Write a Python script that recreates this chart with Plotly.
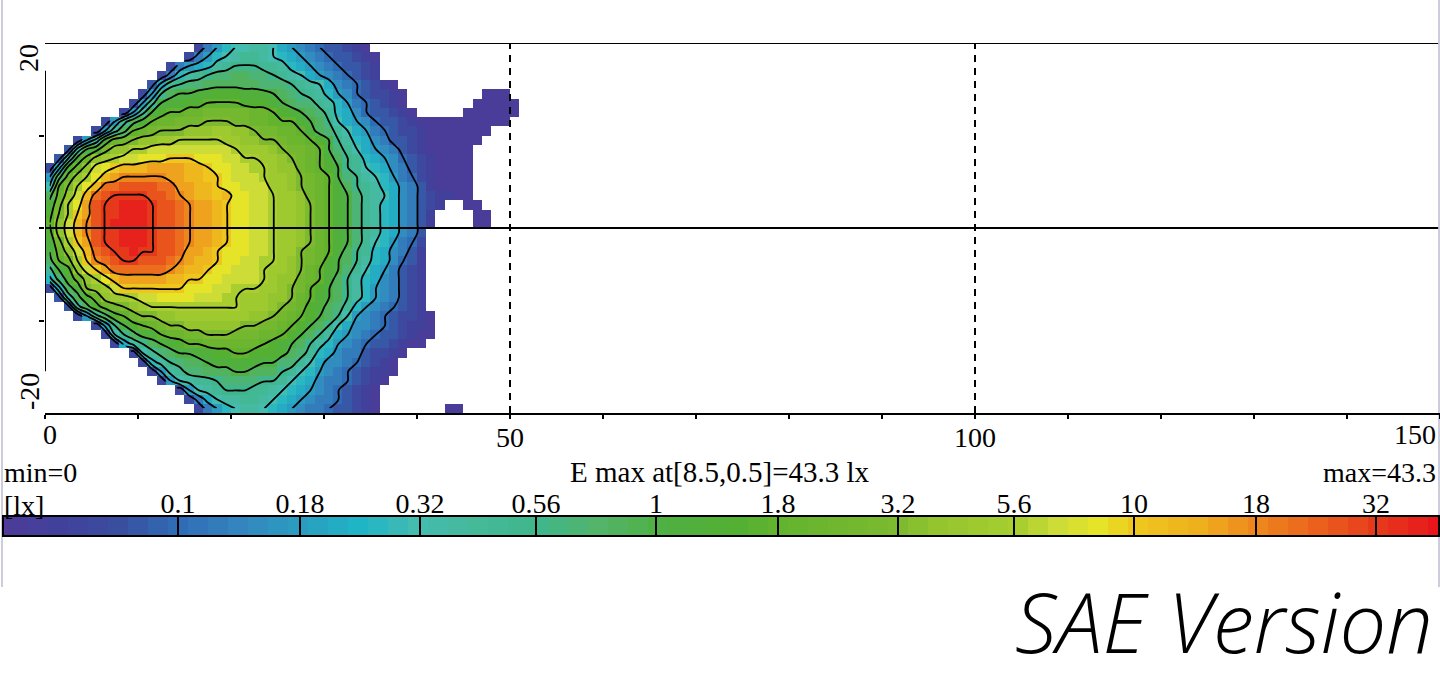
import plotly.graph_objects as go

W, H = 1440, 678
CODE = "0123456789abcdefghijklmnopqrstuvwxyz"

# Illuminance grid, one string per 1-degree row (y = 19.5 ... -19.5).
# Each character is a colour-scale step: 3 steps per band, '4'=0.1 lx, 'g'=1 lx, 's'=10 lx, 'y'=32 lx.
grid_rows = [
    "................2579aabba8765433210",
    "...............2579abccba98765433210",
    ".............25789bcdddccb9876543321",
    "............259bcdeeffeedcba87654321",
    "...........38cdeeffffffeeedcba86543210",
    "..........27dfgghhiiihhhgfedcb976432210........000",
    ".........27cghhiijjjjiiihgfeecb97543210.......00000",
    "........27cgijjkklllllkkjihgfec986433210.....000000",
    "......27cfhjkklllmmmllkkjjjhgfda876433210000000000",
    ".....27cfjklmmmnnnoonnmllkkjhfeca875432210000000",
    "...27bhklmnnoopppppoonnmmlkkjigdb98653321000000",
    "..3bgilnnppqqqqqqqqqpooonmllkjgeca876532100000",
    ".3ahknopqqrrrsssrrrqqppoonmlkjhfdc987643210000",
    "29hknqrstttuuuuttsrrqqpponnlkjigdca98653210000",
    "7fknprtuvvvvvuuttssrqqqpoonmlkjgedba9754210000",
    "ajmprtwwxxxxwwuuttsrrqqqoonmlkjhfdcb9865310000",
    "fknqtwxyyyyxxwvuttstrrqqpoonlkjhgecba865321100",
    "hlpruxyyzzzyxxwvuutsrrqqpoonmkjhgecb9865321..00",
    "impsuxyyzzzyxxwvuutsrrqqpoonmkjhgecb986531....00",
    "jnqtvxyzzzzyxxwvuutsrrqqpoonmkjhgecb986531....00",
    "inqtvxyyzzzyxxwvuutsrrqqpoonmkjhgecb98653",
    "hlpsuxyyzzzyxxwvuutsrrqqpoonmkjhgeca97542",
    "gknqtwxyyzyyxxwuutsrrrqqpoomlkjhfdc986531",
    "fjlpsvwxyyxxxwvuttsrrqqpponmlkigfdb986431",
    "cginqsuwwwwwwvuttsrrqqqpoonmkjhgeca875321",
    "9ehknprtuuuuuttssrrqqqqponnlkjhfdb9865321",
    "29fhmnoqsssssssrrrqqpppoonmljigfdb9765321",
    ".3bfiknoopqqrrrrqqqppooonnmkjhgfdb9765321",
    "..3cfiklmnoppppppppppooonmlkihfec97654321",
    "...27cfijlmmnnoooooooonnmlkjigfda765432210",
    ".....28dgijklmmnnnnnnmmllkjigfda8665432110",
    "......2adfhhjkkllmmmlllkkjigfdb87654332100",
    ".......28bdfghijjkkkkkkjihgfdb97654332100",
    ".........2acefgghhiijjiiihfec9865532210",
    "..........29bdeffghhhhhggeeca866543210",
    "...........27bceefffggfffdca9765432110",
    "............27abccdeeeeddca9865543210",
    "..............27abcdddccba9876543210",
    "...............258abbccba98765543210",
    "................2579abba987655433210.......00",
]

legend_steps = [-0.5, 0, 0.5, 1, 1.5, 2, 2.5, 3, 3.5, 4, 4.5, 5, 5.5, 6, 6.5, 7, 7.5, 8, 8.5,
                9, 9.5, 10, 10.5, 11, 11.5, 12, 12.5, 13, 13.5, 14, 14.5, 15, 15.5, 16, 16.5, 17, 17.5,
                18, 18.5, 19, 19.5, 20, 20.5, 21, 21.5, 22, 22.5, 23, 23.5, 24, 24.5, 25, 25.5, 26, 26.5,
                27, 27.5, 28, 28.5, 29, 29.5, 30, 30.5, 31, 31.5, 32, 32.5, 33, 33.5, 34, 34.5, 35, 35.5]
legend_ticks = [4, 7.05, 10.05, 12.95, 15.95, 19, 22, 24.9, 27.9, 30.95, 33.95]
legend_labels = ["0.1", "0.18", "0.32", "0.56", "1", "1.8", "3.2", "5.6", "10", "18", "32"]
x_ticks = [0, 10, 20, 30, 40, 50, 60, 70, 80, 90, 100, 110, 120, 130, 140, 150]
x_labels = ["", "", "", "", "", "50", "", "", "", "", "100", "", "", "", "", ""]
y_ticks = [-10, 0, 10]

Z_MIN, Z_MAX = -0.35, 35.5
stops = [(-0.35, "#53399b"), (0, "#4a3d9a"), (1, "#41409b"), (2.5, "#3a4ea0"), (4, "#2f6cb5"), (5.5, "#3484c0"),
         (7, "#2b9cc0"), (8.5, "#1fb4c6"), (10, "#44bcb0"), (11.5, "#45b998"), (13, "#3fb68b"),
         (14.5, "#52b56a"), (16, "#4fb043"), (18, "#53b032"), (19, "#62b32e"), (22, "#7dba30"),
         (23, "#95c52e"), (25, "#a8ce30"), (26, "#cddc36"), (27, "#e5e428"), (28, "#eec61e"),
         (29.5, "#eeb01d"), (31, "#ee861e"), (32.5, "#eb601c"), (34, "#e6391c"), (35.5, "#e8151c")]
colorscale = [[(v - Z_MIN) / (Z_MAX - Z_MIN), c] for v, c in stops]

n_cols = max(len(r) for r in grid_rows)
z = [[CODE.index(c) if c != "." else None for c in r.ljust(n_cols, ".")] for r in grid_rows]

SERIF = "Liberation Serif"
fig = go.Figure()
fig.add_trace(go.Heatmap(z=z, x0=0.5, dx=1, y0=19.5, dy=-1, zmin=Z_MIN, zmax=Z_MAX,
                         colorscale=colorscale, showscale=False, hoverongaps=False))
fig.add_trace(go.Contour(z=z, x0=0.5, dx=1, y0=19.5, dy=-1, showscale=False, hoverinfo="skip",
                         contours=dict(coloring="none", start=3.9, end=33.9, size=3),
                         line=dict(color="black", width=1.8, smoothing=1)))
fig.add_trace(go.Heatmap(z=[legend_steps], x=legend_steps, y=[0.5], zmin=Z_MIN, zmax=Z_MAX,
                         colorscale=colorscale, showscale=False, xaxis="x2", yaxis="y2"))


def line(x0, y0, x1, y1, **kw):
    style = dict(color="black", width=2)
    style.update(kw)
    fig.add_shape(type="line", x0=x0, y0=y0, x1=x1, y1=y1, xref="x", yref="y", line=style, layer="above")


line(0, 20, 149.8, 20)
line(-0.5, 0, 149.8, 0)
line(0, -15.5, 0, 17)
line(50, -20, 50, 20, dash="7px,6px")
line(100, -20, 100, 20, dash="7px,6px")

for xp in (2, 1439):
    fig.add_shape(type="line", x0=xp / W, x1=xp / W, y0=1, y1=1 - 587 / H, xref="paper", yref="paper",
                  line=dict(color="#ccccdd", width=2), layer="below")


def text(s, x, y, anchor="left", size=28, **kw):
    fig.add_annotation(text=s, x=x / W, y=1 - y / H, xref="paper", yref="paper", showarrow=False,
                       xanchor=anchor, yanchor="middle", font=kw.pop("font", dict(family=SERIF, size=size, color="black")),
                       borderpad=0, **kw)


text("min=0", 3, 472)
text("E max at[8.5,0.5]=43.3 lx", 720, 472, "center", size=29)
text("max=43.3", 1437, 472, "right")
text("[lx]", 3, 505)
text("0", 50, 434, "center")
text("150", 1437, 434, "right")
text("20", 29, 58, "center", textangle=-90)
text("-20", 29, 392, "center", textangle=-90)
text("SAE Version", 1434, 620, "right",
     font=dict(family="Open Sans", size=83, color="black", style="italic", weight=300))

fig.update_layout(
    width=W, height=H, margin=dict(l=0, r=0, t=0, b=0, autoexpand=False), paper_bgcolor="white", plot_bgcolor="white",
    showlegend=False,
    xaxis=dict(domain=[45 / W, 1], range=[0, 150], tickvals=x_ticks, ticktext=x_labels, ticks="outside",
               ticklen=4, tickwidth=2, tickcolor="black", showgrid=False, zeroline=False, showline=True,
               linecolor="black", linewidth=2, anchor="y", ticklabelstandoff=-6,
               tickfont=dict(family=SERIF, size=28, color="black")),
    yaxis=dict(domain=[1 - 413 / H, 1 - 43 / H], range=[-20, 20], tickvals=y_ticks, ticktext=["", "", ""],
               ticks="outside", ticklen=5, tickwidth=2, tickcolor="black", showgrid=False, zeroline=False,
               showline=False, anchor="x"),
    xaxis2=dict(domain=[4 / W, 1438 / W], range=[Z_MIN, Z_MAX], side="top", tickvals=legend_ticks,
                ticktext=legend_labels, ticks="inside", ticklen=18, tickwidth=2, tickcolor="black", showgrid=False,
                zeroline=False, showline=True, mirror=True, linecolor="black", linewidth=2, anchor="y2",
                ticklabelstandoff=-9, tickfont=dict(family=SERIF, size=28, color="black")),
    yaxis2=dict(domain=[1 - 535 / H, 1 - 517 / H], range=[0, 1], showticklabels=False, ticks="", showgrid=False,
                zeroline=False, showline=True, mirror=True, linecolor="black", linewidth=2, anchor="x2"),
)

fig.write_html("out.html", config=dict(displayModeBar=False), post_script="document.body.style.margin='0';")
